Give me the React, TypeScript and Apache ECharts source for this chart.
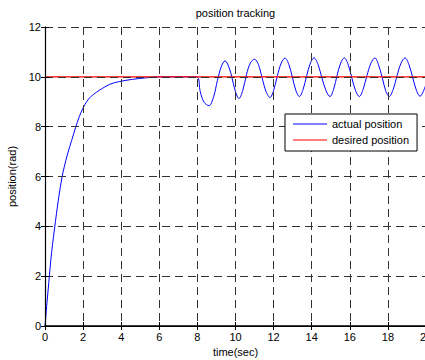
import React, { useEffect, useRef } from "react";
import * as echarts from "echarts";

const xTicks = [0, 20, 2];
const yTicks = [0, 12, 2];

const riseTime = [0, 0.1, 0.2, 0.3, 0.4, 0.5, 0.6, 0.7, 0.8, 0.9, 1.0, 1.2, 1.4, 1.6, 1.8, 2.0, 2.2, 2.4, 2.7, 3.0, 3.4, 3.9, 4.6, 5.3, 6.0, 7.0, 7.96];
const riseValue = [0, 0.9, 1.75, 2.6, 3.3, 3.9, 4.5, 5.05, 5.55, 6.0, 6.35, 6.95, 7.45, 7.95, 8.4, 8.75, 9.02, 9.2, 9.38, 9.53, 9.7, 9.81, 9.9, 9.96, 10, 10, 10];

const oscTime = [8.15, 8.35, 8.61, 8.85, 9.05, 9.25, 9.45, 9.65, 9.82, 10.0, 10.18, 10.38, 10.58, 10.78, 10.99, 11.2, 11.4, 11.6, 11.81, 12.0, 12.2, 12.4, 12.6, 12.8, 12.98, 13.17, 13.35, 13.55, 13.74, 13.93, 14.12, 14.33, 14.54, 14.75, 14.96, 15.15, 15.33, 15.52, 15.71, 15.91, 16.1, 16.3, 16.5, 16.7, 16.9, 17.11, 17.32, 17.5, 17.7, 17.88, 18.07, 18.28, 18.48, 18.69, 18.9, 19.1, 19.3, 19.5, 19.69, 19.85, 20.0];
const oscValue = [9.4, 8.98, 8.84, 9.2, 9.85, 10.4, 10.64, 10.4, 9.95, 9.4, 9.13, 9.45, 10.1, 10.55, 10.71, 10.5, 9.95, 9.42, 9.17, 9.45, 10.05, 10.55, 10.75, 10.5, 10.0, 9.45, 9.21, 9.5, 10.05, 10.55, 10.76, 10.5, 9.95, 9.45, 9.21, 9.5, 10.05, 10.55, 10.76, 10.5, 9.98, 9.45, 9.21, 9.5, 10.05, 10.55, 10.76, 10.5, 9.98, 9.45, 9.21, 9.5, 10.05, 10.55, 10.76, 10.5, 9.98, 9.45, 9.22, 9.4, 9.7];

const desiredTime = [0, 20];
const desiredValue = [10, 10];

const titleText = "position tracking";
const xName = "time(sec)";
const yName = "position(rad)";
const seriesNames = ["actual position", "desired position"];

export default function App() {
  const ref = useRef<HTMLDivElement>(null);
  useEffect(() => {
    if (!ref.current) return;
    const chart = echarts.init(ref.current, null, { renderer: "svg" });
    const actual = [
      ...riseTime.map((t, i) => [t, riseValue[i]]),
      ...oscTime.map((t, i) => [t, oscValue[i]]),
    ];
    const desired = desiredTime.map((t, i) => [t, desiredValue[i]]);
    const font = "'Liberation Sans', Arial, Helvetica, sans-serif";
    const gridLine = { show: true, lineStyle: { color: "#333", width: 1, type: [8, 5] as any } };
    chart.setOption({
      animation: false,
      backgroundColor: "#fff",
      textStyle: { fontFamily: font },
      title: {
        text: titleText,
        left: 235.5,
        textAlign: "center",
        top: 7,
        padding: 0,
        textStyle: { fontSize: 11, fontWeight: "normal", color: "#000", fontFamily: font },
      },
      legend: {
        left: 285,
        top: 114,
        orient: "vertical",
        icon: "rect",
        itemWidth: 34,
        itemHeight: 1,
        itemGap: 4,
        padding: [4, 8, 5, 8],
        borderColor: "#000",
        borderWidth: 1,
        borderRadius: 0,
        backgroundColor: "#fff",
        z: 10,
        textStyle: { fontSize: 11, lineHeight: 12, color: "#000", fontFamily: font },
        data: seriesNames,
      },
      grid: { left: 45, top: 27, width: 381, height: 299, containLabel: false, outerBoundsMode: "none" },
      xAxis: [
        {
          type: "value",
          min: xTicks[0],
          max: xTicks[1],
          interval: xTicks[2],
          z: 5,
          name: xName,
          nameLocation: "middle",
          nameGap: 19,
          nameTextStyle: { fontSize: 11, color: "#000", fontFamily: font },
          axisLine: { lineStyle: { color: "#000", width: 1.5 } },
          axisTick: { show: true, inside: true, length: 4, lineStyle: { color: "#000" } },
          axisLabel: { fontSize: 11, color: "#000", margin: 5, fontFamily: font },
          splitLine: gridLine,
        },
        {
          type: "value",
          position: "top",
          min: xTicks[0],
          max: xTicks[1],
          interval: xTicks[2],
          z: 5,
          axisLine: { lineStyle: { color: "#000", width: 1 } },
          axisTick: { show: true, inside: true, length: 4, lineStyle: { color: "#000" } },
          axisLabel: { show: false },
          splitLine: { show: false },
        },
      ],
      yAxis: [
        {
          type: "value",
          min: yTicks[0],
          max: yTicks[1],
          interval: yTicks[2],
          z: 5,
          name: yName,
          nameLocation: "middle",
          nameGap: 23,
          nameTextStyle: { fontSize: 11, color: "#000", fontFamily: font },
          axisLine: { show: true, lineStyle: { color: "#000", width: 1.2 } },
          axisTick: { show: true, inside: true, length: 4, lineStyle: { color: "#000" } },
          axisLabel: { fontSize: 11, color: "#000", margin: 4, fontFamily: font },
          splitLine: gridLine,
        },
        {
          type: "value",
          position: "right",
          min: yTicks[0],
          max: yTicks[1],
          interval: yTicks[2],
          z: 5,
          axisLine: { show: true, lineStyle: { color: "#000", width: 1 } },
          axisTick: { show: true, inside: true, length: 4, lineStyle: { color: "#000" } },
          axisLabel: { show: false },
          splitLine: { show: false },
        },
      ],
      series: [
        {
          name: seriesNames[0],
          type: "line",
          data: actual,
          color: "#0000ff",
          showSymbol: false,
          smooth: 0.35,
          lineStyle: { color: "#0000ff", width: 1 },
          z: 2,
        },
        {
          name: seriesNames[1],
          type: "line",
          data: desired,
          color: "#ff0000",
          showSymbol: false,
          lineStyle: { color: "#ff0000", width: 1.3 },
          z: 3,
        },
      ],
    });
    return () => chart.dispose();
  }, []);
  return (
    <div
      ref={ref}
      style={{ position: "absolute", left: 0, top: 0, width: 425, height: 360, background: "#fff" }}
    />
  );
}
